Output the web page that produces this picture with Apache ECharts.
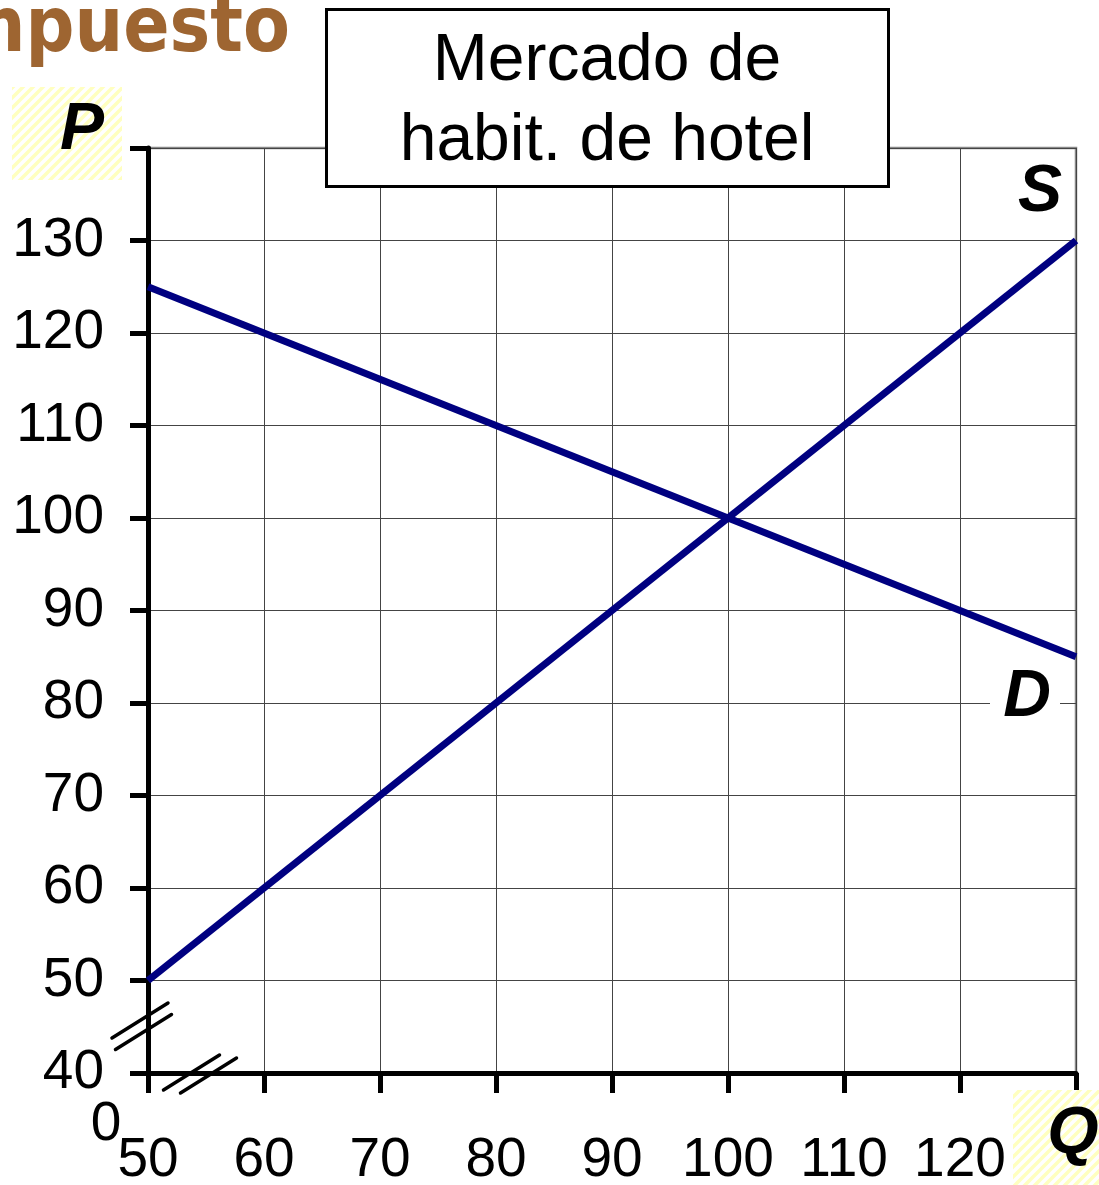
<!DOCTYPE html>
<html><head><meta charset="utf-8">
<script src="https://cdn.jsdelivr.net/npm/echarts@6/dist/echarts.min.js"></script>
<style>html,body{margin:0;padding:0;background:#fff;}#c{width:1099px;height:1185px;}</style>
</head><body><div id="c"></div>
<script>
const xTicks = [50, 60, 70, 80, 90, 100, 110, 120, 130];
const yTicks = [40, 50, 60, 70, 80, 90, 100, 110, 120, 130, 140];
const demandQ = [50, 130];
const demandP = [125, 85];
const supplyQ = [50, 130];
const supplyP = [50, 130];
const titleLines = ['Mercado de', 'habit. de hotel'];
const headerText = 'Impuesto';

const FONT = '"Liberation Sans", Arial, sans-serif';
const chart = echarts.init(document.getElementById('c'));

// hatch pattern
const pc = document.createElement('canvas');
pc.width = 10; pc.height = 10;
const g = pc.getContext('2d');
g.fillStyle = '#ffffff'; g.fillRect(0,0,10,10);
g.strokeStyle = '#ffffc0'; g.lineWidth = 3.5;
g.beginPath();
g.moveTo(-2,12); g.lineTo(12,-2);
g.moveTo(-7,7); g.lineTo(7,-7);
g.moveTo(3,17); g.lineTo(17,3);
g.stroke();
const hatch = {image: pc, repeat: 'repeat'};

const pairs = (xs, ys) => xs.map((x, i) => [x, ys[i]]);

chart.setOption({
  animation: false,
  grid: {left: 148, right: 23, top: 148, bottom: 112, containLabel: false, outerBoundsMode: 'none',
    show: true, borderColor: '#888', borderWidth: 2.5, backgroundColor: 'transparent'},
  xAxis: {
    type: 'value', min: xTicks[0], max: xTicks[xTicks.length-1], interval: 10,
    axisLine: {show: true, onZero: false, lineStyle: {color: '#000', width: 5}},
    axisTick: {show: true, length: 20, lineStyle: {color: '#000', width: 5}},
    axisLabel: {margin: 60, fontSize: 55, color: '#000', fontFamily: FONT,
      formatter: v => (v === xTicks[xTicks.length-1] ? '' : String(v))},
    splitLine: {show: true, lineStyle: {color: '#444', width: 1}}
  },
  yAxis: {
    type: 'value', min: yTicks[0], max: yTicks[yTicks.length-1], interval: 10,
    axisLine: {show: true, onZero: false, lineStyle: {color: '#000', width: 5}},
    axisTick: {show: true, length: 18, lineStyle: {color: '#000', width: 5}},
    axisLabel: {margin: 44, fontSize: 55, color: '#000', fontFamily: FONT,
      formatter: v => (v === yTicks[yTicks.length-1] ? '' : String(v))},
    splitLine: {show: true, lineStyle: {color: '#444', width: 1}}
  },
  series: [
    {type: 'line', data: pairs(supplyQ, supplyP), showSymbol: false, lineStyle: {color: '#000080', width: 7}, z: 5},
    {type: 'line', data: pairs(demandQ, demandP), showSymbol: false, lineStyle: {color: '#000080', width: 7}, z: 5}
  ]
});

const o = chart.convertToPixel({gridIndex: 0}, [xTicks[0], yTicks[0]]);
const ox = o[0], oy = o[1];
const slash = (cx, cy) => ({type: 'line', z: 50,
  shape: {x1: cx - 28, y1: cy + 17.5, x2: cx + 28, y2: cy - 17.5},
  style: {stroke: '#000', lineWidth: 3.5, lineCap: 'round'}});

chart.setOption({
  graphic: [
    {type: 'text', z: 60, style: {text: headerText, x: 290, y: 31, align: 'right', verticalAlign: 'middle',
      font: 'bold 76px "DejaVu Sans Condensed", "DejaVu Sans", sans-serif', fill: '#9e6531'}},
    {type: 'rect', z: 40, shape: {x: 12, y: 87, width: 110, height: 93}, style: {fill: hatch}},
    {type: 'rect', z: 40, shape: {x: 1013, y: 1090, width: 90, height: 100}, style: {fill: hatch}},
    {type: 'text', z: 60, style: {text: 'P', x: 82, y: 131, align: 'center', verticalAlign: 'middle',
      font: 'italic bold 66px ' + FONT, fill: '#000'}},
    {type: 'text', z: 60, style: {text: 'Q', x: 1073, y: 1135, align: 'center', verticalAlign: 'middle',
      font: 'italic bold 66px ' + FONT, fill: '#000'}},
    {type: 'text', z: 60, style: {text: 'S', x: 1040, y: 193, align: 'center', verticalAlign: 'middle',
      font: 'italic bold 66px ' + FONT, fill: '#000'}},
    {type: 'rect', z: 55, shape: {x: 990, y: 672, width: 70, height: 52}, style: {fill: '#fff'}},
    {type: 'text', z: 60, style: {text: 'D', x: 1027, y: 698, align: 'center', verticalAlign: 'middle',
      font: 'italic bold 66px ' + FONT, fill: '#000'}},
    {type: 'text', z: 60, style: {text: '0', x: ox - 42, y: oy + 52, align: 'center', verticalAlign: 'middle',
      font: '55px ' + FONT, fill: '#000'}},
    slash(ox - 8, oy - 52.5),
    slash(ox - 4.5, oy - 41),
    slash(ox + 43.5, oy - 0.5),
    slash(ox + 60.5, oy + 2.5),
    {type: 'rect', z: 70, shape: {x: 326.5, y: 9.5, width: 562, height: 177},
      style: {fill: '#fff', stroke: '#000', lineWidth: 3}},
    {type: 'text', z: 71, style: {text: titleLines.join('\n'), x: 607, y: 102, align: 'center', verticalAlign: 'middle',
      font: '66px ' + FONT, lineHeight: 80, fill: '#000'}}
  ]
});
</script></body></html>
